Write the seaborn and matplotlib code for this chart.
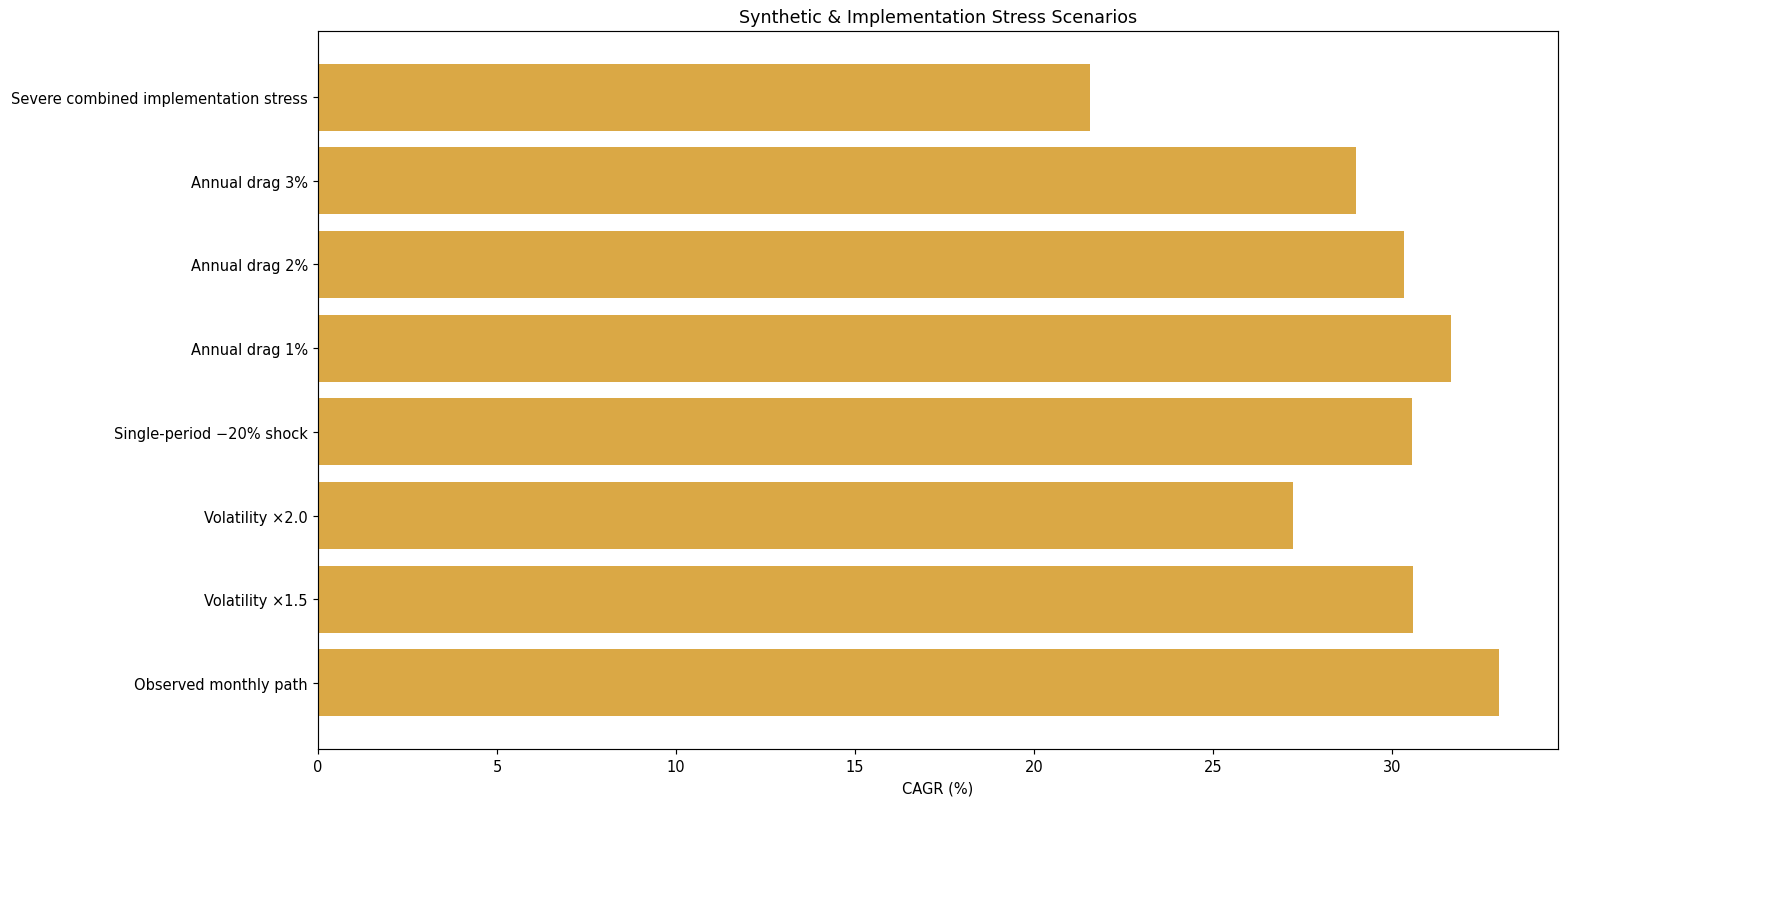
import matplotlib
matplotlib.use("Agg")
import matplotlib.pyplot as plt
import seaborn as sns
import pandas as pd

scenarios = [
    "Observed monthly path",
    "Volatility ×1.5",
    "Volatility ×2.0",
    "Single-period −20% shock",
    "Annual drag 1%",
    "Annual drag 2%",
    "Annual drag 3%",
    "Severe combined implementation stress",
]
cagr_pct = [32.98, 30.57, 27.22, 30.55, 31.65, 30.32, 28.98, 21.55]

bar_color = "#DAA845"

df = pd.DataFrame({"scenario": scenarios, "cagr": cagr_pct})

dpi = 105
fig, ax = plt.subplots(figsize=(1773 / dpi, 915 / dpi), dpi=dpi)
sns.barplot(data=df, x="cagr", y="scenario", order=scenarios[::-1],
            color=bar_color, saturation=1, width=0.8, ax=ax)

# matplotlib-style margins around the bars (seaborn uses -0.5..n-0.5)
n = len(scenarios)
pad = 0.05 * (n - 1 + 0.8)
ax.set_ylim(n - 1 + 0.4 + pad, -0.4 - pad)
ax.set_xlim(0, max(cagr_pct) * 1.05)
ax.set_xticks(range(0, 35, 5))
ax.set_title("Synthetic & Implementation Stress Scenarios")
ax.set_xlabel("CAGR (%)")
ax.set_ylabel("")

fig.subplots_adjust(left=318 / 1773, right=1558 / 1773, top=1 - 32 / 915, bottom=1 - 750 / 915)
fig.savefig("out.png", dpi=dpi)
